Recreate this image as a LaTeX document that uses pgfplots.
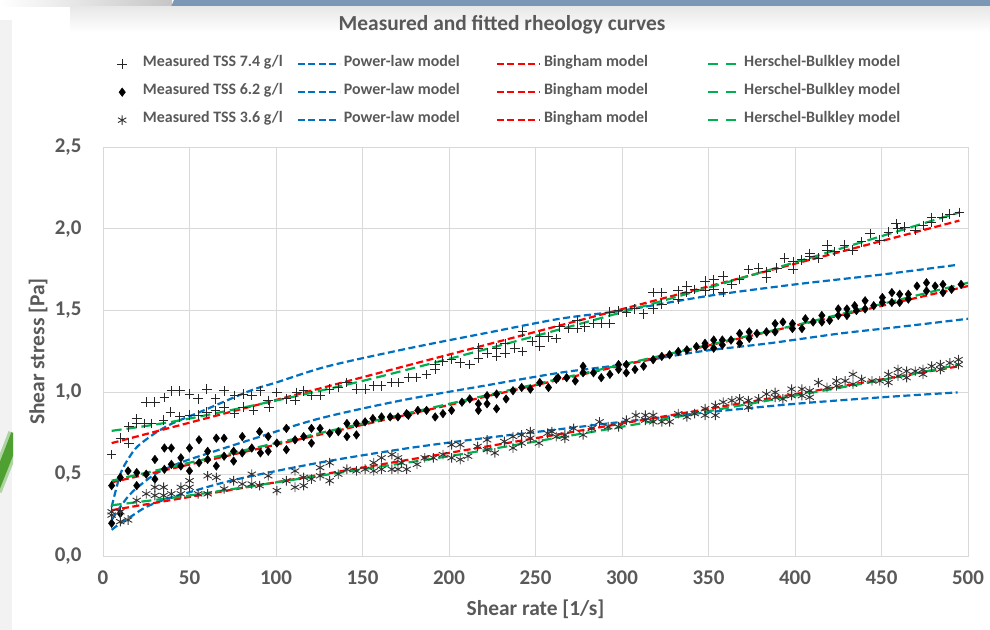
\documentclass[border=0pt]{standalone}
\usepackage{fontspec}
\setmainfont{Carlito}
\usepackage{pgfplots}
\pgfplotsset{compat=1.18}

\definecolor{txtgray}{HTML}{595959}
\definecolor{plblue}{HTML}{0070C0}
\definecolor{bhred}{HTML}{FF0000}
\definecolor{hbgreen}{HTML}{00B050}
\definecolor{gridgray}{HTML}{D9D9D9}
\definecolor{bandblue}{RGB}{122,152,182}
\definecolor{leafgreen}{RGB}{78,160,48}

\pgfplotsset{
  plimg/.style={legend image code/.code={\draw[##1] (0bp,0bp) -- (42bp,0bp);}},
  bhimg/.style={legend image code/.code={\draw[##1] (0bp,0bp) -- (43bp,0bp);}},
  hbimg/.style={legend image code/.code={\draw[##1, dash pattern=on 10bp off 8bp] (0bp,0bp) -- (28bp,0bp);}},
  plline/.style={plblue, line width=2.2bp, dash pattern=on 7bp off 3.5bp, smooth, plimg},
  bhline/.style={bhred, line width=2.2bp, dash pattern=on 7bp off 3.5bp, bhimg},
  hbline/.style={hbgreen, line width=2.2bp, dash pattern=on 10bp off 5bp, smooth, hbimg},
}

\begin{document}
\begin{tikzpicture}[x=1bp,y=1bp]
\path[use as bounding box] (0,0) rectangle (990,630);
% slide decoration round the chart
\fill[gray!10] (0,0) rectangle (12,610);
\shade[left color=white, right color=gray!45] (0,623) rectangle (172,630);
\fill[bandblue] (174,630) -- (990,630) -- (990,623) -- (171,623) -- cycle;
\shade[top color=gray!18, bottom color=white] (70,623) rectangle (990,598);
\begin{scope}
  \clip (0,0) rectangle (13,630);
  \draw[leafgreen!45, line width=16bp] (-6,140) .. controls (2,160) and (8,175) .. (16,196);
  \draw[leafgreen, line width=10bp] (-6,140) .. controls (2,160) and (8,175) .. (16,196);
\end{scope}

\node[font=\bfseries\fontsize{21.5}{24}\selectfont, text=txtgray] at (502,605) {Measured and fitted rheology curves};

\begin{axis}[
  at={(103bp,74bp)}, anchor=south west,
  scale only axis, width=865bp, height=409bp,
  xmin=0, xmax=500, ymin=0, ymax=2.5,
  xtick={0,50,...,500}, ytick={0,0.5,1,1.5,2,2.5},
  grid=major, major grid style={gridgray, line width=0.9bp},
  axis line style={gridgray, line width=0.9bp},
  major tick length=0pt,
  /pgf/number format/assume math mode=true,
  tick label style={font=\bfseries\fontsize{21}{21}\selectfont, text=txtgray},
  x tick label style={/pgf/number format/.cd, fixed, precision=0, /tikz/.cd, yshift=-11bp},
  y tick label style={/pgf/number format/.cd, fixed, fixed zerofill, precision=1, use comma, /tikz/.cd, xshift=-18bp},
  xlabel={Shear rate [1/s]}, ylabel={Shear stress [Pa]},
  label style={font=\bfseries\fontsize{21.5}{21.5}\selectfont, text=txtgray},
  x label style={at={(axis description cs:0.5,-0.13)}, anchor=center},
  y label style={at={(axis description cs:-0.075,0.5)}, anchor=center},
  legend columns=4,
  legend cell align=left,
  legend style={at={(axis description cs:0.0164,1.215)}, anchor=north west,
    draw=none, fill=none, inner sep=0pt,
    font=\bfseries\fontsize{16}{16}\selectfont, text=txtgray,
    nodes={inner sep=0pt, text depth=0.25em, text height=0.75em},
    row sep=18bp,
    /tikz/column 1/.style={column sep=16bp},
    /tikz/column 2/.style={column sep=14bp},
    /tikz/column 3/.style={column sep=3bp},
    /tikz/column 4/.style={column sep=36bp},
    /tikz/column 5/.style={column sep=3bp},
    /tikz/column 6/.style={column sep=59bp},
    /tikz/column 7/.style={column sep=7bp}},
]

% ---------- TSS 7.4 g/l ----------
\addplot[only marks, mark=+, mark size=4.8bp, black!85, mark options={line width=1bp}] coordinates {
(5,0.62) (10,0.72) (15,0.69) (15,0.79) (19.5,0.84) (19.5,0.81) (24,0.81) (25,0.94)
(28,0.81) (30,0.94) (35,0.83) (35.5,0.97) (39,0.88) (39.5,1.01) (44.5,1.01) (44.5,0.85)
(50,0.99) (50,0.86) (55,0.96) (55,0.86) (60,1.02) (60,0.88) (65,0.96) (65,0.89)
(70,1.01) (70,0.91) (76,0.98) (76,0.87) (81,0.99) (81,0.91) (86,0.98) (87,0.89)
(91,1.01) (95.5,0.95) (96,0.91) (100.5,1.00) (106,0.96) (111,0.95) (112,1.00) (116,1.01)
(120.5,0.98) (125.5,0.98) (131,1.02) (136,1.03) (141,1.06) (146.5,1.02) (151.5,1.02) (156.5,1.04)
(161,1.04) (167,1.06) (171,1.06) (176.5,1.09) (181,1.09) (187,1.11) (192,1.14) (192,1.17)
(196.5,1.19) (201.5,1.20) (206.5,1.18) (212,1.17) (217,1.21) (217,1.27) (222,1.24) (227.5,1.22)
(227.5,1.27) (232.5,1.24) (232.5,1.30) (238,1.27) (242.5,1.25) (242.5,1.37) (248,1.31) (252.5,1.34)
(252.5,1.28) (257.5,1.34) (262,1.33) (264,1.40) (269,1.39) (274,1.39) (274,1.44) (278.5,1.40)
(283.5,1.42) (288,1.42) (293,1.49) (293,1.42) (298,1.50) (302.5,1.49) (307.5,1.51) (312.5,1.48)
(318,1.51) (318,1.61) (323,1.54) (323,1.61) (332.5,1.62) (332.5,1.57) (337.5,1.65) (337.5,1.61)
(342,1.63) (348,1.68) (348,1.62) (353,1.69) (353,1.63) (358.5,1.71) (358.5,1.61) (363.5,1.66)
(368,1.69) (373,1.75) (379,1.76) (383.5,1.74) (383.5,1.70) (389.5,1.76) (394,1.82) (399,1.80)
(399,1.75) (404,1.81) (408.5,1.83) (408.5,1.85) (413.5,1.82) (418.5,1.90) (418.5,1.87) (423,1.86)
(428.5,1.90) (433.5,1.87) (438.5,1.92) (443.5,1.97) (449,1.93) (454,1.98) (458.5,2.03) (459.5,2.00)
(463.5,2.01) (469.5,1.99) (474,2.02) (479,2.07) (479,2.04) (485,2.07) (489.5,2.09) (495,2.10)
};
\addplot[plline] coordinates {
(5,0.30) (10,0.50) (15,0.60) (20,0.67) (30,0.75) (40,0.81) (56,0.88) (85,1.01) (100,1.06)
(130,1.16) (177,1.27) (220,1.36) (264,1.45) (300,1.50) (350,1.59) (400,1.66) (450,1.72) (494,1.78)
};
\addplot[bhline] coordinates {
(5,0.69) (495,2.05)
};
\addplot[hbline] coordinates {
(5,0.765) (25,0.795) (50,0.84) (100,0.95) (150,1.07) (200,1.205) (250,1.345) (300,1.49)
(350,1.64) (400,1.795) (450,1.955) (495,2.10)
};

% ---------- TSS 6.2 g/l ----------
\addplot[only marks, mark=diamond*, mark size=4.3bp, black] coordinates {
(5,0.43) (5,0.20) (10,0.48) (10,0.26) (14.5,0.52) (19.5,0.51) (19.5,0.43) (25,0.50)
(30,0.59) (30,0.47) (35.5,0.66) (35.5,0.53) (39.5,0.66) (39.5,0.56) (45,0.60) (45,0.55)
(50,0.66) (50,0.52) (55.5,0.71) (55.5,0.57) (60.5,0.64) (60.5,0.59) (65.5,0.72) (65.5,0.55)
(70,0.72) (70,0.61) (75.5,0.64) (75.5,0.58) (80.5,0.73) (80.5,0.63) (86,0.66) (90.5,0.76)
(91,0.63) (95.5,0.73) (95.5,0.64) (100.5,0.69) (106,0.65) (106,0.78) (111,0.71) (116,0.73)
(120.5,0.78) (120.5,0.69) (125.5,0.78) (131,0.75) (136,0.76) (141,0.73) (141,0.81) (146.5,0.81)
(146.5,0.74) (151.5,0.82) (156,0.84) (161,0.85) (166,0.85) (170.5,0.85) (175.5,0.87) (176.5,0.86)
(182,0.89) (187,0.89) (192,0.85) (196.5,0.87) (201.5,0.89) (207.5,0.94) (212,0.96) (217,0.93)
(217,0.89) (222,0.98) (222,0.93) (227.5,0.99) (227.5,0.90) (233,0.96) (237,1.01) (242,1.03)
(247,1.02) (252.5,1.06) (257.5,1.03) (262,1.08) (263,1.09) (268,1.09) (273,1.07) (277.5,1.16)
(277.5,1.12) (283.5,1.12) (288,1.09) (293,1.11) (298,1.17) (298,1.14) (302.5,1.17) (302.5,1.12)
(307.5,1.14) (312.5,1.16) (318,1.20) (323,1.22) (327.5,1.23) (332.5,1.25) (337.5,1.26) (343,1.28)
(348,1.30) (348,1.28) (353,1.32) (353,1.27) (358,1.32) (358,1.29) (363,1.32) (368,1.36)
(368,1.30) (373.5,1.37) (373.5,1.33) (378,1.36) (383.5,1.37) (388.5,1.42) (388.5,1.37) (393,1.43)
(398.5,1.42) (398.5,1.39) (404,1.39) (406,1.45) (410.5,1.43) (415.5,1.47) (415.5,1.43) (420,1.44)
(425,1.51) (425,1.47) (430,1.51) (430,1.47) (434.5,1.53) (435.5,1.50) (440.5,1.56) (440.5,1.51)
(445.5,1.53) (450.5,1.58) (450.5,1.55) (456,1.61) (456,1.55) (460.5,1.60) (460.5,1.55) (465.5,1.60)
(465.5,1.57) (470.5,1.65) (476,1.67) (476,1.62) (481,1.65) (485.5,1.66) (485.5,1.61) (490.5,1.63)
(496,1.66)
};
\addplot[plline] coordinates {
(5,0.22) (10,0.30) (15,0.37) (20,0.42) (30,0.50) (40,0.55) (50,0.59) (88,0.72) (125,0.84)
(172,0.95) (220,1.04) (264,1.12) (300,1.17) (345,1.25) (385,1.30) (426,1.36) (460,1.40) (500,1.45)
};
\addplot[bhline] coordinates {
(5,0.45) (500,1.65)
};
\addplot[hbline] coordinates {
(5,0.46) (50,0.57) (100,0.69) (150,0.81) (200,0.93) (250,1.05) (300,1.17) (350,1.29)
(400,1.41) (450,1.54) (500,1.67)
};

% ---------- TSS 3.6 g/l ----------
\addplot[only marks, mark=asterisk, mark size=4.8bp, black!80, mark options={line width=0.9bp}] coordinates {
(5,0.27) (5,0.25) (10,0.21) (10,0.27) (14.5,0.22) (19.5,0.34) (25,0.38) (30,0.37)
(30,0.42) (35,0.42) (35,0.37) (39.5,0.38) (45,0.42) (45,0.38) (50,0.42) (50,0.46)
(55,0.38) (60.5,0.49) (60.5,0.38) (65.5,0.48) (70,0.41) (75.5,0.46) (80.5,0.44) (86,0.50)
(86,0.44) (90.5,0.43) (95.5,0.49) (100.5,0.40) (106,0.46) (111,0.42) (111,0.52) (116,0.48)
(116,0.43) (120.5,0.47) (125.5,0.49) (125.5,0.54) (131,0.46) (131,0.57) (136,0.50) (141,0.53)
(146.5,0.52) (151.5,0.53) (156.5,0.57) (156.5,0.52) (161,0.60) (161,0.53) (167,0.62) (167,0.53)
(170.5,0.60) (170.5,0.53) (175.5,0.53) (172.5,0.57) (181.5,0.56) (186,0.60) (191,0.60) (196.5,0.62)
(201.5,0.68) (201.5,0.60) (206.5,0.68) (206.5,0.59) (211,0.61) (216.5,0.67) (222,0.71) (222,0.65)
(226.5,0.63) (232,0.70) (237,0.66) (237,0.73) (242,0.74) (242,0.69) (247,0.76) (247,0.72)
(252,0.69) (257,0.75) (259.5,0.76) (262,0.73) (267,0.74) (267,0.72) (272,0.78) (277.5,0.74)
(282.5,0.78) (287,0.82) (292,0.79) (298,0.79) (302.5,0.83) (308,0.86) (313.5,0.86) (313.5,0.83)
(318,0.86) (318,0.82) (323,0.82) (327.5,0.82) (332.5,0.87) (337.5,0.85) (342,0.87) (348,0.90)
(348,0.86) (354,0.92) (354,0.86) (358.5,0.94) (363.5,0.95) (368,0.96) (373,0.95) (373,0.91)
(379,0.96) (383.5,0.99) (388.5,1.00) (388.5,0.97) (393,0.96) (398,1.02) (398,0.98) (404,1.02)
(404,0.98) (408.5,1.01) (408.5,0.97) (413.5,1.06) (418.5,1.03) (424,1.07) (424,1.04) (429,1.07)
(433.5,1.11) (433.5,1.05) (438.5,1.08) (444.5,1.07) (449,1.07) (454,1.11) (454,1.06) (459.5,1.14)
(459.5,1.10) (464.5,1.13) (464.5,1.09) (469.5,1.13) (474,1.14) (474,1.11) (479,1.16) (484,1.17)
(484,1.14) (489.5,1.18) (494.5,1.20) (494.5,1.17)
};
\addplot[plline] coordinates {
(5,0.16) (10,0.20) (16,0.24) (25,0.30) (37,0.35) (50,0.39) (70,0.45) (91,0.50) (130,0.58)
(177,0.66) (220,0.72) (264,0.775) (300,0.82) (351,0.88) (400,0.93) (450,0.97) (494,1.00)
};
\addplot[bhline] coordinates {
(5,0.28) (495,1.16)
};
\addplot[hbline] coordinates {
(5,0.31) (50,0.37) (100,0.45) (150,0.53) (200,0.61) (250,0.70) (300,0.79) (350,0.885)
(400,0.98) (450,1.075) (495,1.17)
};

\legend{Measured TSS 7.4 g/l, Power-law model, Bingham model, Herschel-Bulkley model,
        Measured TSS 6.2 g/l, Power-law model, Bingham model, Herschel-Bulkley model,
        Measured TSS 3.6 g/l, Power-law model, Bingham model, Herschel-Bulkley model}
\end{axis}
\end{tikzpicture}
\end{document}
